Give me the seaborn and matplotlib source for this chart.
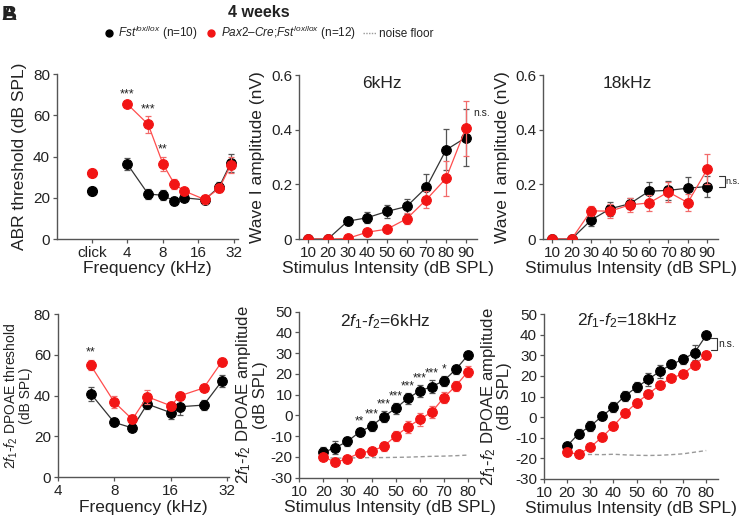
import numpy as np
import pandas as pd
import matplotlib
matplotlib.use("Agg")
import matplotlib.pyplot as plt
from matplotlib.lines import Line2D
import seaborn as sns

# ---- data ----
# ABR thresholds (click plotted at the 2 kHz slot)
abr_freq = [4, 6, 8, 10, 12, 18, 24, 30]
abr_ctrl = [36.3, 21.8, 21.2, 18.4, 20.0, 19.0, 25.3, 36.8]
abr_ctrl_err = [3.0, 2.5, 2.5, 2.0, 1.5, 2.0, 2.5, 4.5]
abr_cko = [65.4, 55.6, 36.4, 26.7, 23.4, 19.2, 24.6, 35.8]
abr_cko_err = [1.5, 4.0, 3.5, 2.5, 1.5, 2.0, 2.0, 4.0]
click_ctrl, click_ctrl_err = 23.4, 1.2
click_cko, click_cko_err = 32.2, 1.5
abr_stars = {4: "***", 6: "***", 8: "**"}

# Wave I amplitudes
wave_db = [10, 20, 30, 40, 50, 60, 70, 80, 90]
w6_ctrl = [0, 0, 0.065, 0.078, 0.101, 0.119, 0.189, 0.326, 0.371]
w6_ctrl_err = [0, 0, 0.015, 0.02, 0.025, 0.028, 0.048, 0.075, 0.105]
w6_cko = [0, 0, 0.002, 0.025, 0.036, 0.074, 0.144, 0.222, 0.405]
w6_cko_err = [0, 0, 0.003, 0.006, 0.008, 0.02, 0.03, 0.065, 0.1]
w18_ctrl = [0, 0, 0.069, 0.111, 0.129, 0.175, 0.178, 0.186, 0.192]
w18_ctrl_err = [0, 0, 0.02, 0.025, 0.02, 0.035, 0.035, 0.04, 0.04]
w18_cko = [0, 0, 0.103, 0.102, 0.125, 0.132, 0.172, 0.133, 0.255]
w18_cko_err = [0, 0, 0.018, 0.025, 0.025, 0.03, 0.035, 0.03, 0.055]

# DPOAE thresholds
dp_freq = [6, 8, 10, 12, 16, 18, 24, 30]
dp_ctrl = [41.0, 26.9, 24.2, 35.9, 31.7, 34.6, 35.4, 47.2]
dp_ctrl_err = [3.5, 2.0, 1.5, 2.5, 3.0, 4.0, 2.5, 3.0]
dp_cko = [54.9, 36.9, 28.4, 39.5, 35.1, 40.0, 43.8, 56.7]
dp_cko_err = [2.5, 3.0, 2.0, 3.5, 2.0, 2.0, 1.5, 2.0]

# DPOAE amplitudes
io_db = [20, 25, 30, 35, 40, 45, 50, 55, 60, 65, 70, 75, 80]
io6_ctrl = [-17.8, -15.5, -12.5, -8.0, -5.1, -0.6, 3.4, 8.2, 11.8, 13.9, 16.7, 22.2, 29.0]
io6_ctrl_err = [2.5, 3.0, 2.0, 2.0, 2.5, 2.5, 2.5, 2.5, 3.0, 3.0, 2.5, 2.0, 2.0]
io6_cko = [-19.9, -22.6, -20.8, -18.1, -17.1, -14.9, -9.9, -5.6, -1.9, 1.6, 8.6, 14.2, 21.1]
io6_cko_err = [1.5, 1.0, 1.0, 1.0, 1.5, 2.0, 2.5, 3.0, 3.0, 3.0, 2.5, 2.5, 2.5]
io6_noise = [-20.3, -20.6, -20.5, -20.4, -20.3, -20.3, -20.2, -20.1, -19.9, -19.7, -19.6, -19.4, -19.1]
io6_stars = {35: "**", 40: "***", 45: "***", 50: "***", 55: "***", 60: "***", 65: "***", 70: "*"}
io18_ctrl = [-14.0, -8.0, -4.4, 0.4, 4.9, 10.4, 14.5, 18.3, 22.2, 25.6, 28.0, 31.3, 39.7]
io18_ctrl_err = [1.5, 2.0, 2.5, 2.0, 2.5, 2.5, 2.5, 3.0, 3.0, 2.0, 2.0, 3.5, 1.5]
io18_cko = [-17.0, -18.0, -14.6, -9.8, -4.3, 1.9, 7.0, 11.2, 15.6, 19.0, 20.9, 25.4, 30.0]
io18_cko_err = [1.5, 1.5, 1.5, 2.0, 2.0, 2.0, 2.0, 2.0, 2.0, 1.5, 1.5, 2.0, 2.0]
io18_noise = [-18.0, -18.2, -18.1, -18.2, -18.0, -18.3, -18.5, -18.6, -18.5, -18.2, -17.8, -17.0, -16.2]

BLACK, RED = "#000000", "#f21515"
BLACK_LINE, RED_LINE = "#333333", "#ff4d4d"
BLACK_ERR, RED_ERR = "#555555", "#f26a6a"
TXT = "#222222"

sns.set_style("ticks")
plt.rcParams["font.family"] = ["Liberation Sans", "DejaVu Sans"]
plt.rcParams["mathtext.fontset"] = "custom"
plt.rcParams["mathtext.rm"] = "Liberation Sans"
plt.rcParams["mathtext.it"] = "Liberation Sans:italic"
plt.rcParams["mathtext.bf"] = "Liberation Sans:bold"
plt.rcParams["axes.unicode_minus"] = False
plt.rcParams["font.size"] = 11
plt.rcParams["text.color"] = TXT
plt.rcParams["axes.labelcolor"] = TXT
plt.rcParams["xtick.color"] = "#555555"
plt.rcParams["ytick.color"] = "#555555"
plt.rcParams["xtick.labelcolor"] = TXT
plt.rcParams["ytick.labelcolor"] = TXT
plt.rcParams["axes.edgecolor"] = "#555555"

fig = plt.figure(figsize=(7.4, 5.18), dpi=100)


def series(ax, x, y, err, mcolor, lcolor, ecolor, z):
    df = pd.DataFrame({"x": x, "y": y})
    ax.errorbar(x, y, yerr=err, fmt="none", ecolor=ecolor, elinewidth=0.9,
                capsize=2.2, capthick=0.9, zorder=z)
    sns.lineplot(data=df, x="x", y="y", ax=ax, color=lcolor, lw=0.9,
                 marker="o", markersize=7, markerfacecolor=mcolor,
                 markeredgecolor=mcolor, zorder=z + 1, legend=False)


def style(ax, ysize=12.5, labelpad=4, linespacing=1.2):
    sns.despine(ax=ax)
    for s in ("left", "bottom"):
        ax.spines[s].set_linewidth(1.0)
    ax.tick_params(length=3, width=0.9, labelsize=11, pad=2)
    ax.set_xlabel(ax.get_xlabel(), fontsize=12.5, labelpad=1)
    ax.set_ylabel(ax.get_ylabel(), fontsize=ysize, labelpad=labelpad,
                  linespacing=linespacing)


# ---- panel 1: ABR thresholds ----
ax1 = fig.add_axes([0.077, 0.5386, 0.245, 0.3185])
series(ax1, abr_freq, abr_ctrl, abr_ctrl_err, BLACK, BLACK_LINE, BLACK_ERR, 3)
series(ax1, abr_freq, abr_cko, abr_cko_err, RED, RED_LINE, RED_ERR, 5)
ax1.errorbar([2], [click_ctrl], yerr=[click_ctrl_err], fmt="o", color=BLACK,
             ms=7, ecolor=BLACK_ERR, elinewidth=0.9, capsize=2.2, zorder=4)
ax1.errorbar([2], [click_cko], yerr=[click_cko_err], fmt="o", color=RED,
             ms=7, ecolor=RED_ERR, elinewidth=0.9, capsize=2.2, zorder=6)
for f, s in abr_stars.items():
    i = abr_freq.index(f)
    ax1.text(f, abr_cko[i] + abr_cko_err[i] + 0.5, s, ha="center", va="bottom",
             fontsize=9)
ax1.set_xscale("log", base=2)
ax1.set_xlim(2 ** 0.02, 2 ** 5.12)
ax1.set_xticks([2, 4, 8, 16, 32])
ax1.set_xticklabels(["click", "4", "8", "16", "32"])
ax1.minorticks_off()
ax1.set_ylim(0, 80)
ax1.set_yticks([0, 20, 40, 60, 80])
ax1.set_xlabel("Frequency (kHz)")
ax1.set_ylabel("ABR threshold (dB SPL)")
style(ax1)

# ---- panels 2 & 3: wave I amplitude ----
def wave_panel(rect, ctrl, ctrl_err, cko, cko_err, title, tx):
    ax = fig.add_axes(rect)
    series(ax, wave_db, ctrl, ctrl_err, BLACK, BLACK_LINE, BLACK_ERR, 3)
    series(ax, wave_db, cko, cko_err, RED, RED_LINE, RED_ERR, 5)
    ax.set_xlim(5.3, 95.5)
    ax.set_xticks(wave_db)
    ax.set_ylim(0, 0.6)
    ax.set_yticks([0, 0.2, 0.4, 0.6])
    ax.set_yticklabels(["0", "0.2", "0.4", "0.6"])
    ax.set_xlabel("Stimulus Intensity (dB SPL)")
    ax.set_ylabel("Wave I amplitude (nV)")
    ax.text(tx, 0.95, title, transform=ax.transAxes, ha="center", va="center",
            fontsize=12.5)
    style(ax)
    return ax


ax2 = wave_panel([0.404, 0.5386, 0.240, 0.3165], w6_ctrl, w6_ctrl_err,
                 w6_cko, w6_cko_err, "6kHz", 0.47)
ax2.text(93.6, 0.46, "n.s.", fontsize=7.5, ha="left", va="center", clip_on=False)

ax3 = wave_panel([0.734, 0.5386, 0.236, 0.3165], w18_ctrl, w18_ctrl_err,
                 w18_cko, w18_cko_err, "18kHz", 0.48)
ax3.plot([96.0, 99.0, 99.0, 96.0], [0.232, 0.232, 0.19, 0.19], color="#333333",
         lw=0.8, clip_on=False)
ax3.text(99.3, 0.211, "n.s.", fontsize=6.5, ha="left", va="center", clip_on=False)

# ---- panel 4: DPOAE thresholds ----
ax4 = fig.add_axes([0.078, 0.0786, 0.232, 0.315])
series(ax4, dp_freq, dp_ctrl, dp_ctrl_err, BLACK, BLACK_LINE, BLACK_ERR, 3)
series(ax4, dp_freq, dp_cko, dp_cko_err, RED, RED_LINE, RED_ERR, 5)
ax4.text(6, 58.3, "**", ha="center", va="bottom", fontsize=9)
ax4.set_xscale("log", base=2)
ax4.set_xlim(4, 2 ** 5.04)
ax4.set_xticks([4, 8, 16, 32])
ax4.set_xticklabels(["4", "8", "16", "32"])
ax4.minorticks_off()
ax4.set_ylim(0, 80)
ax4.set_yticks([0, 20, 40, 60, 80])
ax4.set_xlabel("Frequency (kHz)")
ax4.set_ylabel("$\\mathit{2f_1}$-$\\mathit{f_2}$ DPOAE threshold\n(dB SPL)")
style(ax4, ysize=10, labelpad=3, linespacing=0.95)
ax4.yaxis.set_label_coords(-0.142, 0.5)

# ---- panels 5 & 6: DPOAE amplitude ----
def io_panel(rect, ctrl, ctrl_err, cko, cko_err, noise, title, tx, ty):
    ax = fig.add_axes(rect)
    ax.plot(io_db, noise, color="#999999", lw=1.0, ls=(0, (3, 2)), zorder=2)
    series(ax, io_db, ctrl, ctrl_err, BLACK, BLACK_LINE, BLACK_ERR, 3)
    series(ax, io_db, cko, cko_err, RED, RED_LINE, RED_ERR, 5)
    ax.set_xlim(10, 85)
    ax.set_xticks(range(10, 90, 10))
    ax.set_ylim(-30, 50)
    ax.set_yticks(range(-30, 60, 10))
    ax.set_xlabel("Stimulus Intensity (dB SPL)")
    ax.set_ylabel("$\\mathit{2f_1}$-$\\mathit{f_2}$ DPOAE amplitude\n(dB SPL)")
    ax.text(tx, ty, title, transform=ax.transAxes, ha="center", va="center",
            fontsize=12.5)
    style(ax, ysize=12, labelpad=2, linespacing=0.95)
    return ax


ax5 = io_panel([0.4045, 0.0778, 0.244, 0.3205], io6_ctrl, io6_ctrl_err,
               io6_cko, io6_cko_err, io6_noise,
               "$\\mathit{2f_1}$-$\\mathit{f_2}$=6kHz", 0.474, 0.94)
for d, s in io6_stars.items():
    i = io_db.index(d)
    ax5.text(d, io6_ctrl[i] + io6_ctrl_err[i] + 0.3, s, ha="center", va="bottom",
             fontsize=8.5)

ax6 = io_panel([0.735, 0.0753, 0.235, 0.3185], io18_ctrl, io18_ctrl_err,
               io18_cko, io18_cko_err, io18_noise,
               "$\\mathit{2f_1}$-$\\mathit{f_2}$=18kHz", 0.48, 0.96)
ax6.plot([81.9, 84.7, 84.7, 81.9], [38.3, 38.3, 32.4, 32.4], color="#333333",
         lw=0.8, clip_on=False)
ax6.text(85.0, 35.4, "n.s.", fontsize=7.5, ha="left", va="center", clip_on=False)

# ---- header: panel letters, title, legend ----
fig.text(0.002, 0.99, "A", fontsize=15, fontweight="bold", va="top", ha="left")
fig.text(0.002, 0.99, "B", fontsize=15, fontweight="bold", va="top", ha="left")
fig.text(0.35, 0.976, "4 weeks", fontsize=11.5, fontweight="bold", ha="center",
         va="center")
handles = [
    Line2D([], [], ls="none", marker="o", ms=5, color=BLACK),
    Line2D([], [], ls="none", marker="o", ms=5, color=RED),
    Line2D([], [], color="#999999", lw=1.0, ls=(0, (1, 1))),
]
labels = [
    "$\\mathit{Fst}^{lox/lox}$ (n=10)",
    "$\\mathit{Pax2}$–$\\mathit{Cre}$;$\\mathit{Fst}^{lox/lox}$ (n=12)",
    "noise floor",
]
fig.legend(handles, labels, loc="center", bbox_to_anchor=(0.362, 0.936), ncol=3,
           frameon=False, fontsize=8.5, handlelength=1.1, handletextpad=0.25,
           columnspacing=0.6, borderpad=0)

fig.savefig("out.png", dpi=100)
